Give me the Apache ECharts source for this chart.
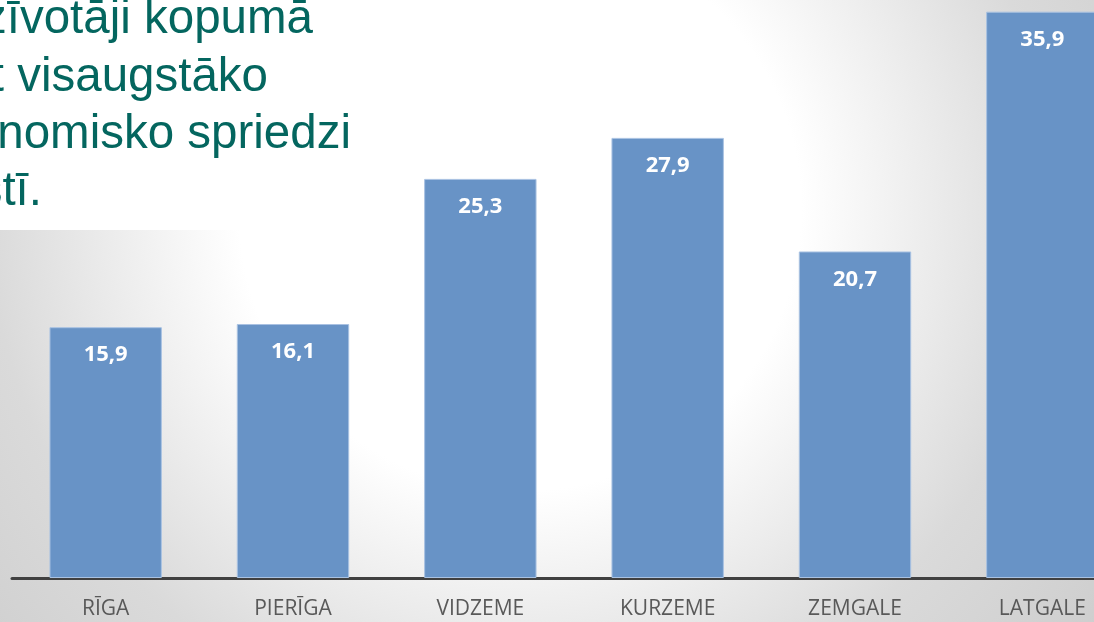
<!DOCTYPE html>
<html>
<head>
<meta charset="utf-8">
<script src="https://cdn.jsdelivr.net/npm/echarts@6/dist/echarts.min.js"></script>
<style>
html,body{margin:0;padding:0;}
#main{width:1094px;height:622px;}
</style>
</head>
<body>
<div id="main"></div>
<script>
// reģioni un vērtības
var regions = ['RĪGA', 'PIERĪGA', 'VIDZEME', 'KURZEME', 'ZEMGALE', 'LATGALE'];
var values = [15.9, 16.1, 25.3, 27.9, 20.7, 35.9];
var titleLines = ['Iedzīvotāji kopumā', 'izjūt visaugstāko', 'ekonomisko spriedzi', 'valstī.'];

var myChart = echarts.init(document.getElementById('main'));

// virsraksta rindas (daļēji ārpus kadra kreisajā pusē)
var titleRight = [313, 268, 351, 42];
var titleMid = [20, 78, 135, 192];
var titleGraphics = [];
for (var i = 0; i < titleLines.length; i++) {
	titleGraphics.push({
		type: 'text',
		z: 10,
		style: {
			text: titleLines[i],
			x: titleRight[i],
			y: titleMid[i],
			fill: '#04665f',
			font: '47.5px "Liberation Sans", Arial, sans-serif',
			align: 'right',
			verticalAlign: 'middle'
		}
	});
}

var option = {
	animation: false,
	graphic: [
		{
			type: 'rect',
			z: -10,
			silent: true,
			shape: {x: 0, y: 0, width: 1094, height: 622},
			style: {
				fill: new echarts.graphic.RadialGradient(520, 210, 760, [
					{offset: 0, color: '#ffffff'},
					{offset: 0.37, color: '#ffffff'},
					{offset: 0.7, color: '#dadada'},
					{offset: 1, color: '#cbcbcb'}
				], true)
			}
		},
		{
			type: 'rect',
			z: -9,
			silent: true,
			shape: {x: 0, y: 0, width: 360, height: 230},
			style: {fill: '#ffffff'}
		}
	].concat(titleGraphics),
	grid: {
		left: 12,
		right: -42,
		top: -53,
		bottom: 44,
		containLabel: false,
		outerBoundsMode: 'none'
	},
	xAxis: {
		type: 'category',
		data: regions,
		axisTick: {show: false},
		axisLine: {lineStyle: {color: '#404040', width: 3}},
		axisLabel: {
			color: '#595959',
			fontSize: 21,
			fontFamily: '"Open Sans", sans-serif',
			margin: 21
		},
		splitLine: {show: false}
	},
	yAxis: {
		type: 'value',
		min: 0,
		max: 40,
		show: false,
		splitLine: {show: false}
	},
	series: [
		{
			type: 'bar',
			data: values,
			barCategoryGap: '40%',
			itemStyle: {color: '#6893c6', borderColor: '#a9c2e2', borderWidth: 1},
			label: {
				show: true,
				position: 'insideTop',
				distance: 17,
				color: '#ffffff',
				fontWeight: 'bold',
				fontSize: 22,
				fontFamily: '"Open Sans", sans-serif',
				formatter: function (p) { return String(p.value).replace('.', ','); }
			}
		}
	]
};

myChart.setOption(option);
</script>
</body>
</html>
